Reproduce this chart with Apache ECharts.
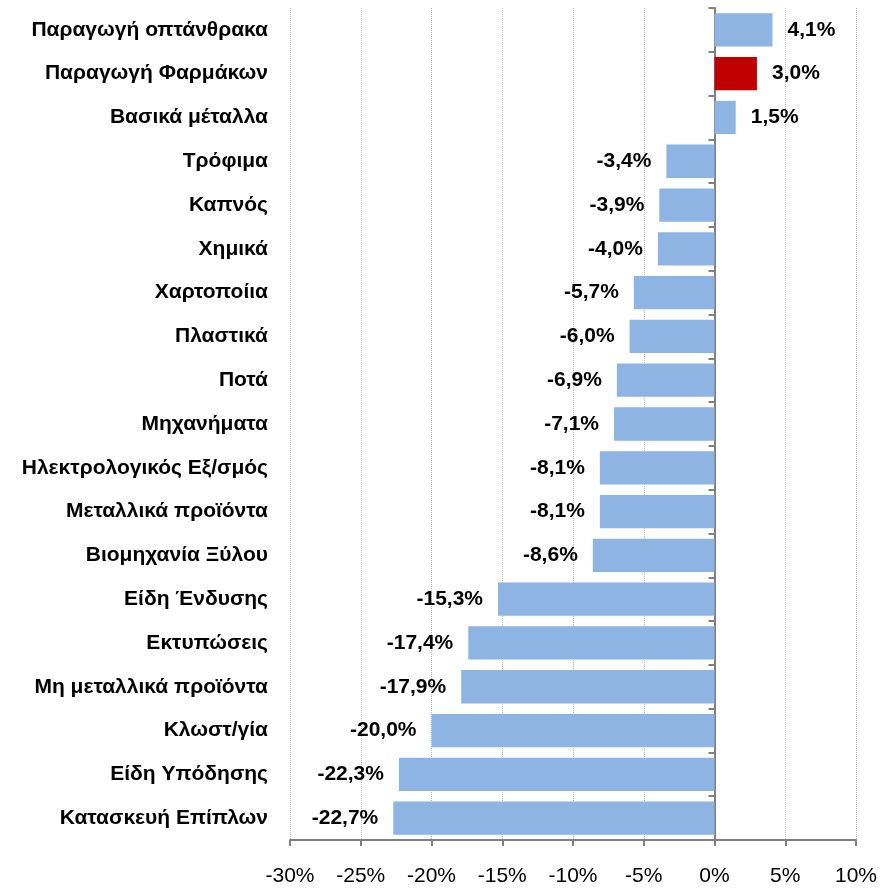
<!DOCTYPE html>
<html>
<head>
<meta charset="utf-8">
<script src="https://cdn.jsdelivr.net/npm/echarts@6/dist/echarts.min.js"></script>
<style>
  html, body { margin: 0; padding: 0; background: #fff; }
  #chart { width: 890px; height: 888px; }
</style>
</head>
<body>
<div id="chart"></div>
<script>
// κλάδοι, από πάνω προς τα κάτω
var categories = [
  'Παραγωγή οπτάνθρακα', 'Παραγωγή Φαρμάκων', 'Βασικά μέταλλα', 'Τρόφιμα',
  'Καπνός', 'Χημικά', 'Χαρτοποίια', 'Πλαστικά', 'Ποτά', 'Μηχανήματα',
  'Ηλεκτρολογικός Εξ/σμός', 'Μεταλλικά προϊόντα', 'Βιομηχανία Ξύλου',
  'Είδη Ένδυσης', 'Εκτυπώσεις', 'Μη μεταλλικά προϊόντα', 'Κλωστ/γία',
  'Είδη Υπόδησης', 'Κατασκευή Επίπλων'
]
var values = [4.1, 3.0, 1.5, -3.4, -3.9, -4.0, -5.7, -6.0, -6.9, -7.1,
  -8.1, -8.1, -8.6, -15.3, -17.4, -17.9, -20.0, -22.3, -22.7]
var highlight = 'Παραγωγή Φαρμάκων'
var xTicks = [-30, -25, -20, -15, -10, -5, 0, 5, 10]

var font = 'Liberation Sans, Arial, sans-serif'
var blue = '#8EB4E3', red = '#C00000', axisGrey = '#808080'

function pct(v) {
  return v.toFixed(1).replace('.', ',') + '%'
}

var data = values.map(function (v, i) {
  return {
    value: v,
    itemStyle: { color: categories[i] === highlight ? red : blue },
    label: { position: v >= 0 ? 'right' : 'left' }
  }
})

var chart = echarts.init(document.getElementById('chart'))
chart.setOption({
  backgroundColor: '#fff',
  animation: false,
  grid: { left: 290, right: 34, top: 8, bottom: 48, containLabel: false },
  xAxis: {
    type: 'value',
    min: xTicks[0],
    max: xTicks[xTicks.length - 1],
    interval: 5,
    axisLine: { show: true, onZero: false, lineStyle: { color: axisGrey, width: 2 } },
    axisTick: { show: true, length: 6, lineStyle: { color: axisGrey, width: 2 } },
    axisLabel: {
      margin: 26,
      color: '#000',
      fontFamily: font,
      fontSize: 21,
      formatter: function (v) { return v + '%' }
    },
    splitLine: { show: true, lineStyle: { color: '#b8b8b8', type: 'dotted', width: 1 } }
  },
  yAxis: [
    {
      type: 'category',
      data: categories,
      inverse: true,
      axisLine: { show: false, onZero: false },
      axisTick: { show: false },
      axisLabel: {
        margin: 22,
        color: '#000',
        fontFamily: font,
        fontSize: 21,
        fontWeight: 'bold'
      }
    },
    {
      type: 'category',
      data: categories,
      inverse: true,
      position: 'left',
      axisLine: { show: true, onZero: true, lineStyle: { color: axisGrey, width: 2 } },
      axisTick: { show: true, length: 6, lineStyle: { color: axisGrey, width: 2 } },
      axisLabel: { show: false }
    }
  ],
  series: [
    {
      type: 'bar',
      yAxisIndex: 0,
      data: data,
      barCategoryGap: '24%',
      label: {
        show: true,
        distance: 15,
        color: '#000',
        fontFamily: font,
        fontSize: 21,
        fontWeight: 'bold',
        formatter: function (p) { return pct(p.value) }
      }
    }
  ]
})
</script>
</body>
</html>
